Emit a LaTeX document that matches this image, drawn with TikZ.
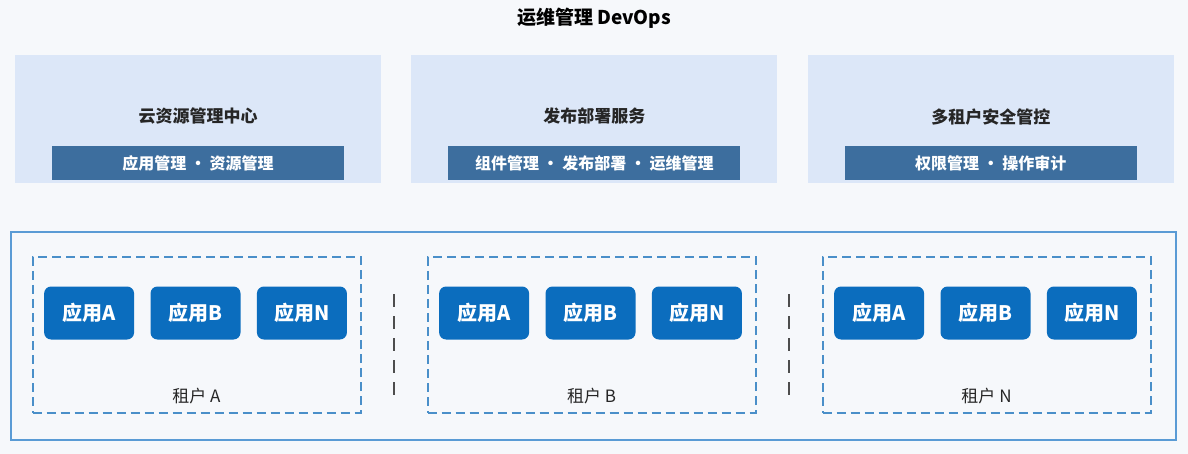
\documentclass[tikz,border=0pt]{standalone}
\usepackage{fontspec}
\setmainfont{Noto Sans CJK SC}
\usetikzlibrary{positioning, calc}

\definecolor{pagebg}{HTML}{F6F8FB}
\definecolor{panelfill}{HTML}{DCE7F8}
\definecolor{barfill}{HTML}{3D6E9E}
\definecolor{appfill}{HTML}{0B6DBE}
\definecolor{frameblue}{HTML}{5A9BD5}
\definecolor{tenantblue}{HTML}{4A8FC9}
\definecolor{sepgray}{HTML}{4D4D4D}

\begin{document}
\begin{tikzpicture}[
    x=1pt, y=-1pt,
    % Styles
    base/.style={rectangle, text centered, inner sep=0pt},
    panel/.style={base, fill=panelfill, minimum width=366pt, minimum height=128pt},
    paneltitle/.style={base, font=\fontsize{17}{20}\selectfont\bfseries, text=black!85},
    bar/.style={base, fill=barfill, minimum width=292pt, minimum height=34pt, text=white, font=\fontsize{16}{19}\selectfont\bfseries},
    frame/.style={base, draw=frameblue, line width=1.8pt, minimum width=1165pt, minimum height=208pt},
    tenant/.style={base, draw=tenantblue, line width=2pt, dash pattern=on 9pt off 5pt, minimum width=328pt, minimum height=156pt},
    app/.style={base, fill=appfill, rounded corners=7pt, minimum width=90pt, minimum height=53pt, text=white, font=\fontsize{20}{24}\selectfont\bfseries},
    tenantlabel/.style={base, font=\fontsize{17}{20}\selectfont, text=black!85},
    separator/.style={draw=sepgray, line width=2.5pt, dash pattern=on 13pt off 9pt}
]

    \fill [pagebg] (0,0) rectangle (1188,454);
    \useasboundingbox (0,0) rectangle (1188,454);

    % --- Title ---
    \node [base, font=\fontsize{19}{22}\selectfont\bfseries] (title) at (594,18) {运维管理 DevOps};

    % --- Top panels ---
    \node [panel] (res) at (198,119) {};
    \node [panel, right=30pt of res] (deploy) {};
    \node [panel, right=30pt of deploy] (secure) {};

    \node [paneltitle] (restitle) at ($(res.north)+(0,61)$) {云资源管理中心};
    \node [paneltitle] (deploytitle) at ($(deploy.north)+(0,61)$) {发布部署服务};
    \node [paneltitle] (securetitle) at ($(secure.north)+(0,62)$) {多租户安全管控};

    \node [bar] (resbar) at ($(res.south)+(0,-20)$) {应用管理 · 资源管理};
    \node [bar] (deploybar) at ($(deploy.south)+(0,-20)$) {组件管理 · 发布部署 · 运维管理};
    \node [bar] (securebar) at ($(secure.south)+(0,-20)$) {权限管理 · 操作审计};

    % --- Tenant area ---
    \node [frame] (tenants) at (593.5,336) {};

    \node [tenant] (tenA) at (196.5,335) {};
    \node [tenant, right=65pt of tenA] (tenB) {};
    \node [tenant, right=65pt of tenB] (tenN) {};

    % apps of each tenant
    \foreach \t/\name in {tenA/A, tenB/B, tenN/N} {
        \node [app] (\t-b) at ($(\t.north)+(-1,57)$) {应用B};
        \node [app, left=16pt of \t-b] (\t-a) {应用A};
        \node [app, right=16pt of \t-b] (\t-n) {应用N};
        \node [tenantlabel] (\t-label) at ($(\t.south)+(0,-18)$) {租户 \name};
    }

    % --- Separators ---
    \coordinate (sepAB) at ($(tenA.east)!0.5!(tenB.west)$);
    \coordinate (sepBN) at ($(tenB.east)!0.5!(tenN.west)$);
    \draw [separator] ($(sepAB)+(0,-41)$) -- ($(sepAB)+(0,60)$);
    \draw [separator] ($(sepBN)+(0,-41)$) -- ($(sepBN)+(0,60)$);

\end{tikzpicture}
\end{document}
